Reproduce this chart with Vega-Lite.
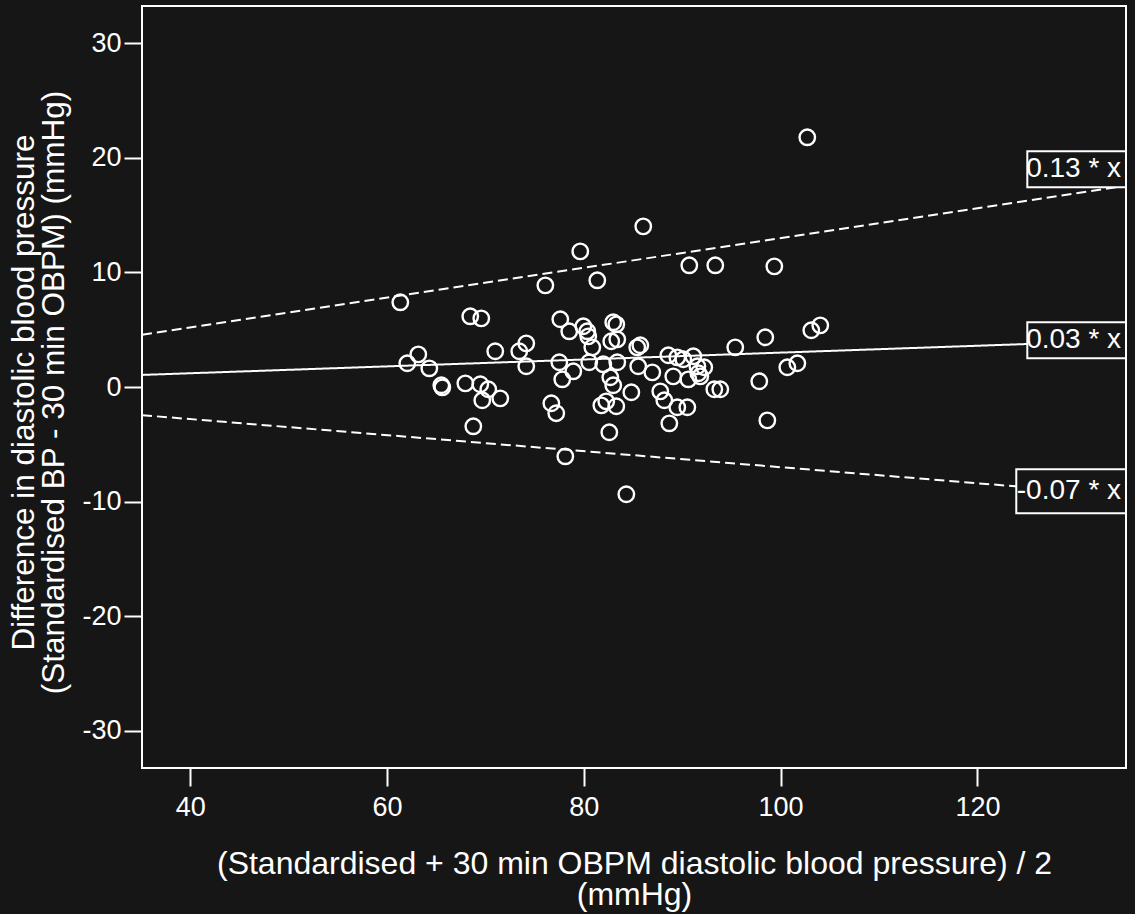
{
  "$schema": "https://vega.github.io/schema/vega-lite/v6.json",
  "width": 984,
  "height": 762,
  "autosize": {"type": "none"},
  "padding": {"left": 142, "top": 6, "right": 9, "bottom": 146},
  "background": "#161616",
  "config": {
    "view": {"stroke": "white", "strokeWidth": 2},
    "axis": {
      "domain": false,
      "grid": false,
      "tickColor": "white",
      "tickWidth": 2,
      "tickSize": 18,
      "labelColor": "white",
      "labelFont": "Liberation Sans",
      "labelFontSize": 27,
      "titleColor": "white",
      "titleFont": "Liberation Sans",
      "titleFontWeight": "normal",
      "titleBaseline": "alphabetic"
    }
  },
  "datasets": {
    "pairs": [
      {"mean": 61.35, "diff": 7.39}, {"mean": 62.06, "diff": 2.07}, {"mean": 63.18, "diff": 2.85},
      {"mean": 64.30, "diff": 1.63}, {"mean": 65.52, "diff": 0.15}, {"mean": 65.62, "diff": -0.03},
      {"mean": 67.96, "diff": 0.32}, {"mean": 68.46, "diff": 6.17}, {"mean": 69.58, "diff": 5.99},
      {"mean": 69.48, "diff": 0.24}, {"mean": 70.29, "diff": -0.20}, {"mean": 69.68, "diff": -1.16},
      {"mean": 68.77, "diff": -3.43}, {"mean": 71.00, "diff": 3.12}, {"mean": 71.51, "diff": -0.99},
      {"mean": 73.44, "diff": 3.12}, {"mean": 74.15, "diff": 3.81}, {"mean": 74.15, "diff": 1.81},
      {"mean": 76.09, "diff": 8.87}, {"mean": 76.70, "diff": -1.42}, {"mean": 77.20, "diff": -2.29},
      {"mean": 77.61, "diff": 5.91}, {"mean": 77.51, "diff": 2.16}, {"mean": 77.81, "diff": 0.67},
      {"mean": 78.12, "diff": -6.05}, {"mean": 78.52, "diff": 4.86}, {"mean": 78.93, "diff": 1.37},
      {"mean": 79.64, "diff": 11.84}, {"mean": 79.95, "diff": 5.30}, {"mean": 80.35, "diff": 4.86},
      {"mean": 80.45, "diff": 4.42}, {"mean": 80.55, "diff": 2.16}, {"mean": 80.86, "diff": 3.46},
      {"mean": 81.37, "diff": 9.31}, {"mean": 81.98, "diff": 1.98}, {"mean": 81.78, "diff": -1.60},
      {"mean": 82.28, "diff": -1.25}, {"mean": 82.69, "diff": 0.85}, {"mean": 82.99, "diff": 0.15},
      {"mean": 82.59, "diff": -3.95}, {"mean": 82.99, "diff": 5.65}, {"mean": 83.30, "diff": 5.47},
      {"mean": 82.79, "diff": 3.99}, {"mean": 83.40, "diff": 4.16}, {"mean": 83.40, "diff": 2.16},
      {"mean": 83.30, "diff": -1.68}, {"mean": 84.32, "diff": -9.36}, {"mean": 84.83, "diff": -0.46},
      {"mean": 85.43, "diff": 3.46}, {"mean": 85.74, "diff": 3.64}, {"mean": 85.53, "diff": 1.81},
      {"mean": 86.04, "diff": 14.02}, {"mean": 86.96, "diff": 1.28}, {"mean": 87.77, "diff": -0.38},
      {"mean": 88.18, "diff": -1.16}, {"mean": 88.69, "diff": -3.17}, {"mean": 88.59, "diff": 2.77},
      {"mean": 89.50, "diff": 2.59}, {"mean": 89.09, "diff": 0.93}, {"mean": 89.50, "diff": -1.77},
      {"mean": 90.52, "diff": -1.77}, {"mean": 90.72, "diff": 10.62}, {"mean": 91.13, "diff": 2.68},
      {"mean": 91.54, "diff": 1.81}, {"mean": 90.62, "diff": 0.67}, {"mean": 91.64, "diff": 1.20},
      {"mean": 91.84, "diff": 0.93}, {"mean": 92.24, "diff": 1.72}, {"mean": 93.26, "diff": -0.20},
      {"mean": 93.87, "diff": -0.20}, {"mean": 93.36, "diff": 10.62}, {"mean": 95.39, "diff": 3.46},
      {"mean": 97.83, "diff": 0.50}, {"mean": 98.44, "diff": 4.34}, {"mean": 98.65, "diff": -2.91},
      {"mean": 99.36, "diff": 10.53}, {"mean": 100.68, "diff": 1.72}, {"mean": 101.70, "diff": 2.07},
      {"mean": 102.71, "diff": 21.79}, {"mean": 103.12, "diff": 4.95}, {"mean": 104.03, "diff": 5.38},
      {"mean": 90.11, "diff": 2.42}
    ],
    "fits": [
      {"fit": "mean", "x": 35.1, "y": 1.053},
      {"fit": "mean", "x": 135.1, "y": 4.053},
      {"fit": "upper", "x": 35.1, "y": 4.563},
      {"fit": "upper", "x": 135.1, "y": 17.563},
      {"fit": "lower", "x": 35.1, "y": -2.457},
      {"fit": "lower", "x": 135.1, "y": -9.457}
    ],
    "fitLabels": [
      {"label": "0.13 * x", "x1": 125.07, "x2": 135.1, "y1": 20.57, "y2": 17.43, "tx": 134.6, "ty": 19.0},
      {"label": "0.03 * x", "x1": 125.07, "x2": 135.1, "y1": 5.65, "y2": 2.50, "tx": 134.6, "ty": 4.08},
      {"label": "-0.07 * x", "x1": 123.95, "x2": 135.1, "y1": -7.18, "y2": -11.02, "tx": 134.6, "ty": -9.1}
    ]
  },
  "layer": [
    {
      "data": {"name": "pairs"},
      "mark": {"type": "point", "shape": "circle", "filled": false, "color": "white", "strokeWidth": 2.4, "size": 240, "opacity": 1},
      "encoding": {
        "x": {
          "field": "mean", "type": "quantitative",
          "scale": {"domain": [35.1, 135.1], "nice": false, "zero": false},
          "axis": {
            "values": [40, 60, 80, 100, 120],
            "labelPadding": 8,
            "title": ["(Standardised + 30 min OBPM diastolic blood pressure) / 2", "(mmHg)"],
            "titleFontSize": 32,
            "titleLineHeight": 31,
            "titleX": 492,
            "titleY": 105,
            "titleAlign": "center",
            "titleAnchor": "middle"
          }
        },
        "y": {
          "field": "diff", "type": "quantitative",
          "scale": {"domain": [-33.25, 33.25], "nice": false, "zero": false},
          "axis": {
            "values": [-30, -20, -10, 0, 10, 20, 30],
            "labelPadding": 3,
            "labelExpr": "datum.value < 0 ? '-' + abs(datum.value) : '' + datum.value",
            "title": ["Difference in diastolic blood pressure", "(Standardised BP - 30 min OBPM) (mmHg)"],
            "titleFontSize": 31.5,
            "titleLineHeight": 30,
            "titleAngle": 270,
            "titleX": -109,
            "titleY": 386,
            "titleAlign": "center",
            "titleAnchor": "middle"
          }
        }
      }
    },
    {
      "data": {"name": "fits"},
      "mark": {"type": "line", "color": "white", "strokeWidth": 2, "clip": true},
      "encoding": {
        "x": {"field": "x", "type": "quantitative"},
        "y": {"field": "y", "type": "quantitative"},
        "detail": {"field": "fit"},
        "strokeDash": {
          "field": "fit", "type": "nominal",
          "scale": {"domain": ["mean", "upper", "lower"], "range": [[1, 0], [10, 5], [10, 5]]},
          "legend": null
        }
      }
    },
    {
      "data": {"name": "fitLabels"},
      "mark": {"type": "rect", "fill": "#161616", "stroke": "white", "strokeWidth": 2},
      "encoding": {
        "x": {"field": "x1", "type": "quantitative"},
        "x2": {"field": "x2"},
        "y": {"field": "y1", "type": "quantitative"},
        "y2": {"field": "y2"}
      }
    },
    {
      "data": {"name": "fitLabels"},
      "mark": {"type": "text", "color": "white", "font": "Liberation Sans", "fontSize": 28, "align": "right", "baseline": "middle"},
      "encoding": {
        "x": {"field": "tx", "type": "quantitative"},
        "y": {"field": "ty", "type": "quantitative"},
        "text": {"field": "label"}
      }
    }
  ]
}
